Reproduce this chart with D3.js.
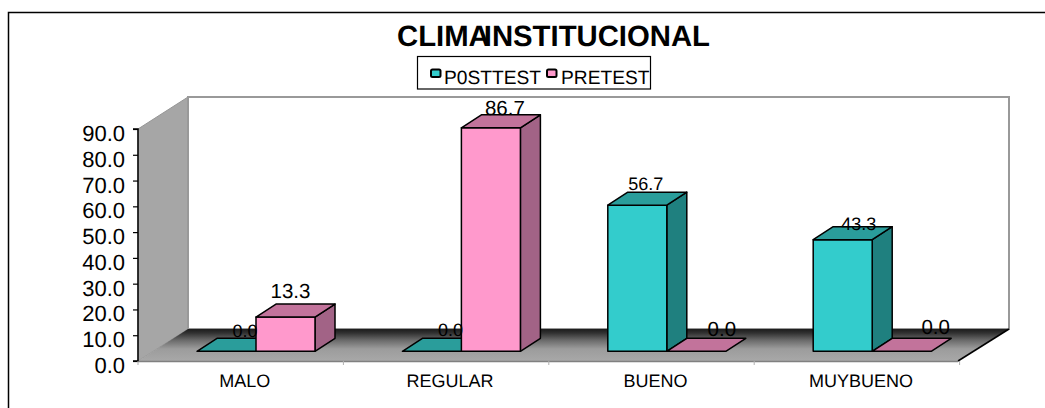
<!DOCTYPE html>
<html>
<head>
<meta charset="utf-8">
<script src="https://cdn.jsdelivr.net/npm/d3@7"></script>
<style>
html,body{margin:0;padding:0;background:#fff;overflow:hidden}
svg{display:block}
text{font-family:"Liberation Sans",Arial,sans-serif;fill:#000;text-rendering:geometricPrecision}
</style>
</head>
<body>
<svg id="c" width="1045" height="408"></svg>
<script>
const categories = ["MALO", "REGULAR", "BUENO", "MUYBUENO"];
const seriesNames = ["P0STTEST", "PRETEST"];
const posttest = [0.0, 0.0, 56.7, 43.3];
const pretest = [13.3, 86.7, 0.0, 0.0];
const yTicks = [0, 10, 20, 30, 40, 50, 60, 70, 80, 90];

// Styling, kept apart from the data
const frontColors = ["#33CCCC", "#FF99CC"];
const topColors = ["#2A9D9B", "#C2739B"];
const sideColors = ["#1F807F", "#A26386"];
const labelSizes = [18, 20.5];
const labelDx = [[18.5, 18.5, 8.5, 16], [5, 14, 25.5, 34]];
const labelDy = [[-14.7, -15.5, -15.5, -10], [-19, -13, -15.7, -17.7]];

const svg = d3.select("#c");
const plot = {left: 138, right: 958, top: 129, bottom: 361};
const wall = {dx: 50, dy: -32};
const bar = {dx: 20, dy: -13, base: 9.7};

const x0 = d3.scaleBand().domain(categories).range([plot.left, plot.left + 821.6]);
const x1 = d3.scaleBand().domain(seriesNames).range([59, 177]);
const y = d3.scaleLinear().domain([0, 90]).range([plot.bottom, plot.top]);
const pts = a => a.map(p => p.join(",")).join(" ");

// chart frame
svg.append("path").attr("d", "M8.5,408V12.5H1045").attr("fill", "none").attr("stroke", "#000").attr("stroke-width", 1.5);

// gradient for the floor
const g = svg.append("defs").append("linearGradient").attr("id", "floor")
  .attr("x1", 0).attr("y1", 0).attr("x2", 0).attr("y2", 1);
[[0, "#1c1c1c"], [0.12, "#303030"], [0.35, "#6a6a6a"], [0.62, "#9c9c9c"], [1, "#a8a8a8"]]
  .forEach(s => g.append("stop").attr("offset", s[0]).attr("stop-color", s[1]));

// side wall
svg.append("polygon").attr("fill", "#A6A6A6").attr("stroke", "#969696")
  .attr("points", pts([[plot.left, plot.top], [plot.left + wall.dx, plot.top + wall.dy],
    [plot.left + wall.dx, plot.bottom + wall.dy], [plot.left, plot.bottom]]));
// back wall
svg.append("rect").attr("x", plot.left + wall.dx).attr("y", plot.top + wall.dy)
  .attr("width", plot.right - plot.left + 1).attr("height", plot.bottom - plot.top)
  .attr("fill", "#fff").attr("stroke", "#999").attr("stroke-width", 2);
// floor
svg.append("polygon").attr("fill", "url(#floor)")
  .attr("points", pts([[plot.left, plot.bottom], [plot.right, plot.bottom],
    [plot.right + wall.dx + 1, plot.bottom + wall.dy], [plot.left + wall.dx, plot.bottom + wall.dy]]));
svg.append("line").attr("x1", plot.right).attr("y1", plot.bottom)
  .attr("x2", plot.right + wall.dx + 1).attr("y2", plot.bottom + wall.dy)
  .attr("stroke", "#000").attr("stroke-width", 1.5);
svg.append("line").attr("x1", plot.left).attr("y1", plot.bottom + .5)
  .attr("x2", plot.right).attr("y2", plot.bottom + .5)
  .attr("stroke", "#808080").attr("stroke-width", 1.5);

// y axis
const yAxis = d3.axisLeft(y).tickValues(yTicks).tickFormat(d3.format(".1f")).tickSize(5).tickPadding(8);
const ya = svg.append("g").attr("transform", `translate(${plot.left},0)`).call(yAxis);
ya.select(".domain").attr("stroke", "#000").attr("stroke-width", 1.5).attr("d", `M-5,${plot.top}H0V${plot.bottom}H-5`);
ya.selectAll(".tick line").attr("stroke", "#000").attr("stroke-width", 1.2);
ya.selectAll("text").attr("font-size", 22).attr("fill", "#000").attr("font-family", '"Liberation Sans",Arial,sans-serif').attr("dy", "0.52em");

// x axis
const xAxis = d3.axisBottom(x0).tickSize(0).tickPadding(13);
const xa = svg.append("g").attr("transform", `translate(4,${plot.bottom})`).call(xAxis);
xa.select(".domain").remove();
xa.selectAll("text").attr("font-size", 18).attr("fill", "#000").attr("font-family", '"Liberation Sans",Arial,sans-serif');
svg.append("g").selectAll("line").data(categories.concat("end")).join("line")
  .attr("x1", (d, i) => plot.left + x0.step() * i).attr("x2", (d, i) => plot.left + x0.step() * i)
  .attr("y1", plot.bottom).attr("y2", plot.bottom + 4).attr("stroke", "#b0b0b0");

// bars
const all = [posttest, pretest];
const baseY = plot.bottom - bar.base;
const barsG = svg.append("g").attr("stroke", "#000").attr("stroke-width", 1.5).attr("stroke-linejoin", "round");
categories.forEach((c, i) => {
  seriesNames.forEach((s, k) => {
    const v = all[k][i];
    const l = x0(c) + x1(s), r = l + x1.bandwidth();
    const t = y(v) - bar.base;
    if (v > 0) {
      barsG.append("polygon").attr("fill", sideColors[k])
        .attr("points", pts([[r, t], [r + bar.dx, t + bar.dy], [r + bar.dx, baseY + bar.dy], [r, baseY]]));
      barsG.append("rect").attr("fill", frontColors[k])
        .attr("x", l).attr("y", t).attr("width", r - l).attr("height", baseY - t);
    }
    barsG.append("polygon").attr("fill", topColors[k])
      .attr("points", pts([[l, t], [l + bar.dx, t + bar.dy], [r + bar.dx, t + bar.dy], [r, t]]));
  });
});

// value labels
const labels = svg.append("g").attr("text-anchor", "middle");
categories.forEach((c, i) => {
  seriesNames.forEach((s, k) => {
    const v = all[k][i];
    labels.append("text").text(d3.format(".1f")(v))
      .attr("x", x0(c) + x1(s) + x1.bandwidth() / 2 + labelDx[k][i])
      .attr("y", y(v) - bar.base + labelDy[k][i])
      .attr("font-size", labelSizes[k]);
  });
});

// title
const title = svg.append("text").attr("x", 397).attr("y", 46).attr("font-size", 29.3).attr("font-weight", "bold");
title.append("tspan").text("CLIMA");
title.append("tspan").attr("dx", -6).text("INSTITUCIONAL");

// legend
svg.append("rect").attr("x", 417.5).attr("y", 56.5).attr("width", 233).attr("height", 32.5)
  .attr("fill", "#fff").attr("stroke", "#000").attr("stroke-width", 1.2);
const legendX = [[431, 444], [547, 561]];
seriesNames.forEach((s, k) => {
  svg.append("rect").attr("x", legendX[k][0]).attr("y", 69.5).attr("width", 9.5).attr("height", 7.5).attr("rx", 1.5)
    .attr("fill", frontColors[k]).attr("stroke", "#000").attr("stroke-width", 2);
  svg.append("text").attr("x", legendX[k][1]).attr("y", 84).attr("font-size", 19.2).text(s);
});
</script>
</body>
</html>
